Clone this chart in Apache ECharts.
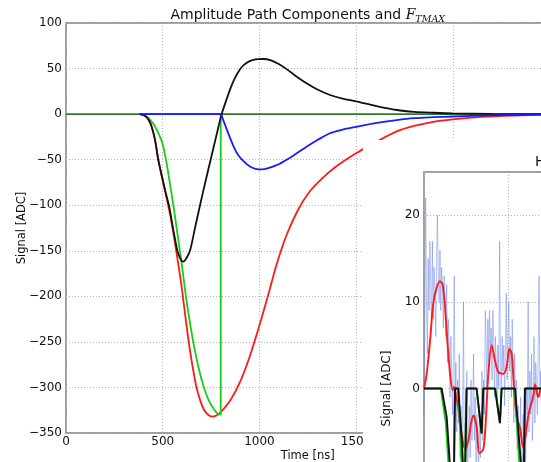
<!DOCTYPE html>
<html>
<head>
<meta charset="utf-8">
<script src="https://cdn.jsdelivr.net/npm/echarts/dist/echarts.min.js"></script>
<style>
  html, body { margin: 0; padding: 0; background: #fff; }
  #wrap { position: relative; width: 541px; height: 462px; overflow: hidden; }
  #main { position: absolute; left: 0; top: 0; width: 541px; height: 462px; }
  #inset { position: absolute; left: 363px; top: 140px; width: 178px; height: 322px; background: #fff; }
</style>
</head>
<body>
<div id="wrap"><div id="main"></div><div id="inset"></div></div>
<script>
// ---- Amplitude path components: [time ns, signal ADC] ----
const zeroLine = [[0, 0], [2500, 0]];

const totalPulse = [
  [380, 0], [400, -1], [420, -4], [440, -12], [460, -28], [477, -50], [500, -72], [520, -90],
  [534, -102], [555, -127], [576, -150], [592, -159], [605, -162], [620, -159], [641, -150],
  [665, -127], [693, -100], [720, -75], [748, -50], [776, -25], [805, 0], [830, 16], [850, 28],
  [870, 38], [890, 46], [910, 52], [935, 56.5], [960, 59], [990, 60.3], [1020, 60.5], [1060, 59],
  [1100, 55], [1150, 48], [1193, 41], [1250, 33], [1300, 27], [1365, 21], [1430, 17], [1500, 14],
  [1600, 9], [1710, 4.5], [1800, 2.5], [1900, 1.5], [2000, 0.8], [2200, 0.2], [2500, 0]
];

const fullPulse = [
  [380, 0], [400, -1], [420, -4], [440, -12], [460, -28], [477, -50], [500, -73], [520, -92],
  [540, -112], [560, -137], [578, -161], [595, -185], [610, -210], [625, -235], [640, -258],
  [657, -280], [675, -300], [695, -315], [715, -325], [735, -330], [755, -332], [775, -331],
  [800, -327], [850, -314], [900, -294], [950, -266], [1000, -232], [1050, -195], [1089, -165],
  [1140, -133], [1200, -105], [1260, -85], [1322, -71], [1400, -57], [1500, -43], [1600, -31],
  [1710, -19], [1800, -13], [1900, -8.5], [2000, -5.8], [2150, -3], [2311, -1.5], [2500, -0.6]
];

const truncatedPulse = [
  [390, 0], [420, -3], [450, -10], [480, -22], [500, -33], [517, -50], [535, -73], [555, -100],
  [572, -125], [589, -150], [605, -175], [620, -200], [638, -225], [658, -250], [684, -277],
  [713, -300], [740, -315], [765, -324], [785, -329], [800, -330]
];
const truncationEdge = [[800, -330], [800, 0]];

const tailPulse = [
  [380, 0], [790, 0], [800, 0], [813, -6.6], [830, -16], [848, -26], [870, -37], [890, -45],
  [915, -51], [951, -57.5], [980, -60], [1012, -60.7], [1050, -59], [1100, -55], [1150, -49],
  [1193, -43], [1250, -35], [1300, -28.5], [1365, -21], [1430, -17], [1500, -14], [1600, -10],
  [1710, -6.6], [1800, -4.5], [1900, -3.4], [2000, -2.6], [2200, -1.3], [2400, -0.7], [2500, -0.5]
];

const mainXTicks = { min: 0, max: 2500, step: 500 };
const mainYTicks = { min: -350, max: 100, step: 50 };

// ---- Hit view: raw samples (every half sample unit), smoothed trace, hits and fit ----
const sampleStep = 0.5;
const rawSamples = [
  -3, 6, 22, 10, 4, 15, 9, 17, 12, 7,
  17, 8, 14, 11, 6, 15, 20, 13, 10, 16,
  9, 14, 12, 7, 13, 10, 6, 12, 3, 8,
  5, -1, 6, 2, -3, 3, 13, -2, 3, -5,
  1, -4, 4, -8, -2, -6, -3, 10, -9, -4,
  -7, 2, -9, -5, -2, -8, 1, -6, -3, 4,
  -6, -1, -9, -3, -7, -10, -2, -8, -4, 2,
  -6, 1, -3, 9, 5, 0, 8, 3, 9, 4,
  7, 1, 9, 5, -1, 6, 3, -2, 5, 0,
  17, 3, -1, 6, 2, 5, -2, 5, 11, 1,
  7, 10, 2, 6, -1, 8, 3, -4, 4, -3,
  1, -7, -2, -5, -9, -1, -6, -10, -3, -8,
  -4, -9, 0, -3, 10, -5, 2, -3, 4, -6,
  -2, 6, -4, 3, 0, -3, 5, 13, -1, 2,
  -4, 3, 1, -2, 2
];

const smoothedTrace = [
  [0, 0], [1.6, 1.7], [3.6, 5.5], [5.5, 9.8], [7.6, 11.7], [9.5, 12.4], [11.1, 12], [12.5, 9.4],
  [13.9, 5.5], [15.5, 1.7], [17.1, -0.2], [17.9, 0.2], [19, -0.8], [20.4, -2.2], [22.4, -5.2],
  [24.4, -7], [26.4, -6], [28, -4], [29.4, -3.1], [31.4, -4.5], [32.9, -7.5], [35.3, -7],
  [36.7, -4], [38.3, 1.7], [40.3, 5], [42.3, 3.2], [44.2, 1.9], [47.2, 1.7], [49.2, 2.5],
  [50.8, 4.6], [52.2, 4], [53.8, -0.6], [55.2, -3.3], [57.1, -4.5], [59.1, -6.8], [60.7, -5.2],
  [62.1, -3.1], [65.1, -0.8], [66.1, 0.5], [68, -1], [69.6, 0], [72, 0.3]
];

const hitTrace = [
  [0, 0], [10.5, 0], [13.5, -3.3], [15.5, -9], [17.6, -14], [18.5, 0], [20.4, 0], [22.5, -6],
  [24.2, -13], [25.4, 0], [31.3, 0], [34.3, -5.2], [35.3, 0], [42.3, 0], [45.2, -4], [46.2, 0],
  [54.2, 0], [57, -7], [59.3, -12], [60.1, 0], [72, 0]
];

const fitTrace = [
  [0, 0], [10, 0], [13, -4], [15, -10], [17.4, -16], [18.3, 0], [20.4, 0], [22.2, -8], [24, -15],
  [25.2, 0], [31.3, 0], [34.3, -5.2], [35.3, 0], [42.3, 0], [45.2, -4], [46.2, 0], [54, 0],
  [56.5, -8], [59.5, -15], [60, 0], [72, 0]
];

const insetXTicks = { min: 0, max: 300, step: 50 };
const insetYRange = { min: -25, max: 25, step: 10 };

// ---- shared styling ----
const FONT = 'DejaVu Sans';
const frameColor = '#7f7f7f';
const gridLine = { show: true, lineStyle: { color: '#b3b3b3', width: 1, type: [1, 2] } };
const minus = v => String(v).replace('-', '\u2212');

function line(data, color, width, smooth) {
  return {
    type: 'line', data, symbol: 'none', smooth: smooth || 0, clip: true,
    lineStyle: { color, width: width || 1.8 }, itemStyle: { color }, silent: true, animation: false
  };
}

// ---- main chart ----
const mainChart = echarts.init(document.getElementById('main'), null, { renderer: 'canvas' });
mainChart.setOption({
  animation: false,
  backgroundColor: '#fff',
  textStyle: { fontFamily: FONT },
  grid: {
    left: 66, top: 23, width: 483.5, height: 410, containLabel: false, outerBoundsMode: 'none',
    show: true, borderColor: frameColor, borderWidth: 1.5, backgroundColor: 'transparent'
  },
  xAxis: {
    type: 'value', min: mainXTicks.min, max: mainXTicks.max, interval: mainXTicks.step,
    name: 'Time [ns]', nameLocation: 'middle', nameGap: 17, nameMoveOverlap: false,
    nameTextStyle: { fontFamily: FONT, fontSize: 11.5, color: '#111' },
    axisLine: { show: false }, axisTick: { show: false },
    axisLabel: { fontFamily: FONT, fontSize: 12, color: '#111', margin: 3, formatter: minus },
    splitLine: gridLine
  },
  yAxis: {
    type: 'value', min: mainYTicks.min, max: mainYTicks.max, interval: mainYTicks.step,
    name: 'Signal [ADC]', nameLocation: 'middle', nameGap: 38, nameMoveOverlap: false,
    nameTextStyle: { fontFamily: FONT, fontSize: 11.5, color: '#111' },
    axisLine: { show: false }, axisTick: { show: false },
    axisLabel: { fontFamily: FONT, fontSize: 12, color: '#111', margin: 4, formatter: minus },
    splitLine: gridLine
  },
  graphic: [{
    type: 'text', x: 307.75, y: 5,
    style: {
      text: 'Amplitude Path Components and {f|F}{s|TMAX}',
      fontFamily: FONT, fontSize: 14, fill: '#111', align: 'center', verticalAlign: 'top', lineHeight: 20,
      rich: {
        f: { fontFamily: 'DejaVu Serif', fontStyle: 'italic', fontSize: 14, lineHeight: 20, fill: '#111' },
        s: { fontFamily: 'DejaVu Serif', fontStyle: 'italic', fontSize: 9.5, lineHeight: 10, verticalAlign: 'bottom', fill: '#111' }
      }
    }
  }],
  series: [
    line(zeroLine, '#2f7a2f', 1.9),
    line(fullPulse, '#ff1a1a', 1.8, 0.3),
    line(truncatedPulse, '#19cc19', 1.8, 0.3),
    line(truncationEdge, '#19cc19', 1.8),
    line(totalPulse, '#111111', 1.8, 0.3),
    line(tailPulse, '#1a1aff', 1.8, 0.3)
  ]
});

// ---- hit view ----
const insetChart = echarts.init(document.getElementById('inset'), null, { renderer: 'canvas' });
insetChart.setOption({
  animation: false,
  backgroundColor: '#fff',
  textStyle: { fontFamily: FONT },
  grid: {
    left: 61, top: 32, width: 504, height: 433, containLabel: false, outerBoundsMode: 'none',
    show: true, borderColor: frameColor, borderWidth: 1.5, backgroundColor: 'transparent'
  },
  xAxis: {
    type: 'value', min: insetXTicks.min, max: insetXTicks.max, interval: insetXTicks.step,
    axisLine: { show: false }, axisTick: { show: false }, axisLabel: { show: false },
    splitLine: gridLine
  },
  yAxis: {
    type: 'value', min: insetYRange.min, max: insetYRange.max,
    minInterval: insetYRange.step, maxInterval: insetYRange.step,
    name: 'Signal [ADC]', nameLocation: 'middle', nameGap: 31, nameMoveOverlap: false,
    nameTextStyle: { fontFamily: FONT, fontSize: 12, color: '#111' },
    axisLine: { show: false }, axisTick: { show: false },
    axisLabel: {
      fontFamily: FONT, fontSize: 12, color: '#111', margin: 4,
      formatter: v => (v % insetYRange.step === 0 ? minus(v) : '')
    },
    splitLine: gridLine
  },
  graphic: [{
    type: 'text', x: 172, y: 15,
    style: { text: 'Hit Finding', fontFamily: FONT, fontSize: 14, fill: '#111' }
  }],
  series: [
    line(rawSamples.map((v, i) => [i * sampleStep, v]), 'rgba(90,120,230,0.45)', 1),
    line(smoothedTrace, '#ff1a1a', 1.9, 0.3),
    line(fitTrace, '#19cc19', 1.9),
    line(hitTrace, '#111111', 1.9)
  ]
});
</script>
</body>
</html>
